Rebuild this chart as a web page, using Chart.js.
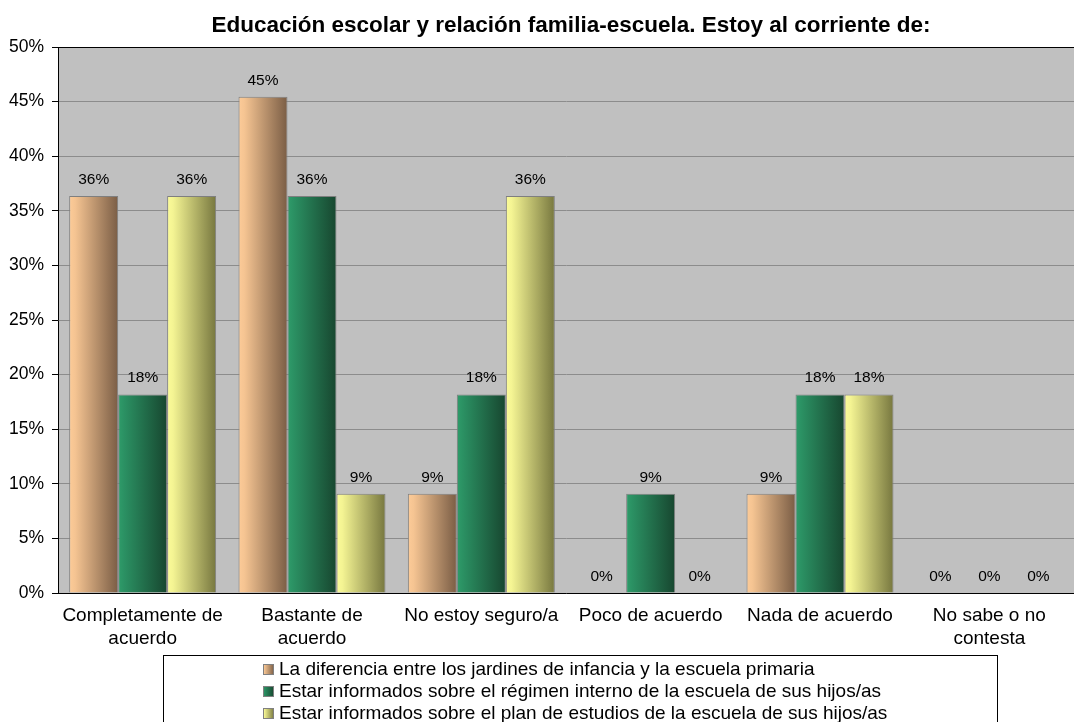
<!DOCTYPE html>
<html>
<head>
<meta charset="utf-8">
<title>Educación escolar y relación familia-escuela</title>
<script src="https://cdn.jsdelivr.net/npm/chart.js@4/dist/chart.umd.min.js"></script>
<style>
  html, body { margin: 0; padding: 0; background: #ffffff; }
  #wrap { width: 1074px; height: 722px; overflow: hidden; }
</style>
</head>
<body>
<div id="wrap"><canvas id="chart" width="1074" height="722"></canvas></div>
<script>
// Survey answers (share of respondents, %)
const categories = [
  ['Completamente de', 'acuerdo'],
  ['Bastante de', 'acuerdo'],
  'No estoy seguro/a',
  'Poco de acuerdo',
  'Nada de acuerdo',
  ['No sabe o no', 'contesta']
];
const seriesNames = [
  'La diferencia entre los jardines de infancia y la escuela primaria',
  'Estar informados sobre el régimen interno de la escuela de sus hijos/as',
  'Estar informados sobre el plan de estudios de la escuela de sus hijos/as'
];
const diferenciaJardines = [36.36, 45.45, 9.09, 0, 9.09, 0];
const regimenInterno     = [18.18, 36.36, 18.18, 9.09, 18.18, 0];
const planEstudios       = [36.36, 9.09, 36.36, 0, 18.18, 0];
const yTicks = [0, 5, 10, 15, 20, 25, 30, 35, 40, 45, 50];
const chartTitle = 'Educación escolar y relación familia-escuela. Estoy al corriente de:';

const FONT = "'Liberation Sans', Arial, Helvetica, sans-serif";
const CAT_PCT = 0.868;

// light -> dark horizontal shading for each series
const shades = [
  ['#fccb98', '#f5c492', '#7a5d45'],
  ['#2f9c6a', '#2b9163', '#17462f'],
  ['#fbfb98', '#f4f493', '#77773f']
];

function barGradient(ctx, left, width, s) {
  const g = ctx.createLinearGradient(left, 0, left + width, 0);
  g.addColorStop(0, s[0]);
  g.addColorStop(0.12, s[1]);
  g.addColorStop(1, s[2]);
  return g;
}

function barFill(seriesIndex) {
  return function (context) {
    const chart = context.chart;
    if (!chart.chartArea || context.dataIndex === undefined) return shades[seriesIndex][1];
    const xs = chart.scales.x;
    const n = chart.data.labels.length;
    const cw = (xs.right - xs.left) / n;
    const bw = cw * CAT_PCT / 3;
    const left = xs.getPixelForValue(context.dataIndex) - cw * CAT_PCT / 2 + seriesIndex * bw;
    return barGradient(chart.ctx, left, bw, shades[seriesIndex]);
  };
}

// grey plot background with a dark top edge
const plotBackground = {
  id: 'plotBackground',
  beforeDraw(chart) {
    const { ctx, chartArea: a } = chart;
    ctx.save();
    ctx.fillStyle = '#c0c0c0';
    ctx.fillRect(a.left, a.top, a.right - a.left, a.bottom - a.top);
    ctx.restore();
  },
  afterDraw(chart) {
    const { ctx, chartArea: a } = chart;
    ctx.save();
    ctx.strokeStyle = '#000000';
    ctx.lineWidth = 1;
    ctx.beginPath();
    ctx.moveTo(a.left, a.top + 0.5);
    ctx.lineTo(a.right, a.top + 0.5);
    ctx.stroke();
    ctx.restore();
  }
};

// percentage above every bar
const valueLabels = {
  id: 'valueLabels',
  afterDatasetsDraw(chart) {
    const ctx = chart.ctx;
    ctx.save();
    ctx.font = '15.5px ' + FONT;
    ctx.fillStyle = '#000000';
    ctx.textAlign = 'center';
    ctx.textBaseline = 'alphabetic';
    chart.data.datasets.forEach((ds, i) => {
      chart.getDatasetMeta(i).data.forEach((el, j) => {
        ctx.fillText(Math.round(ds.data[j]) + '%', el.x, el.y - 12);
      });
    });
    ctx.restore();
  }
};

// chart title centred over the plot
const titleText = {
  id: 'titleText',
  afterDraw(chart) {
    const ctx = chart.ctx;
    ctx.save();
    ctx.font = 'bold 22.5px ' + FONT;
    ctx.fillStyle = '#000000';
    ctx.textAlign = 'center';
    ctx.textBaseline = 'alphabetic';
    ctx.fillText(chartTitle, 571, 32);
    ctx.restore();
  }
};

// boxed legend below the category labels
const boxedLegend = {
  id: 'boxedLegend',
  afterDraw(chart) {
    const ctx = chart.ctx;
    ctx.save();
    ctx.strokeStyle = '#000000';
    ctx.lineWidth = 1;
    ctx.strokeRect(163.5, 655.5, 834, 80);
    ctx.font = '19px ' + FONT;
    ctx.textBaseline = 'alphabetic';
    ctx.textAlign = 'left';
    chart.data.datasets.forEach((ds, i) => {
      const base = 675 + i * 22;
      const sx = 263, sy = base - 11;
      ctx.fillStyle = barGradient(ctx, sx, 11, shades[i]);
      ctx.fillRect(sx, sy, 11, 11);
      ctx.strokeStyle = '#808080';
      ctx.strokeRect(sx + 0.5, sy + 0.5, 10, 10);
      ctx.fillStyle = '#000000';
      ctx.fillText(ds.label, 279, base);
    });
    ctx.restore();
  }
};

const seriesValues = [diferenciaJardines, regimenInterno, planEstudios];

new Chart(document.getElementById('chart'), {
  type: 'bar',
  data: {
    labels: categories,
    datasets: seriesValues.map((vals, i) => ({
      label: seriesNames[i],
      data: vals,
      backgroundColor: barFill(i),
      borderColor: '#7f7f7f',
      borderWidth: 1,
      categoryPercentage: CAT_PCT,
      barPercentage: 1
    }))
  },
  options: {
    responsive: false,
    animation: false,
    layout: { padding: { top: 47, right: 0, bottom: 0, left: 0 } },
    plugins: {
      legend: { display: false },
      title: { display: false },
      tooltip: { enabled: false }
    },
    scales: {
      x: {
        grid: { display: false },
        border: { display: true, color: '#000000', width: 1 },
        ticks: {
          color: '#000000',
          font: { family: FONT, size: 19, lineHeight: 1.21 },
          padding: 3,
          maxRotation: 0,
          autoSkip: false
        },
        afterFit(scale) { scale.height = 129; }
      },
      y: {
        min: yTicks[0],
        max: yTicks[yTicks.length - 1],
        afterBuildTicks(scale) { scale.ticks = yTicks.map(v => ({ value: v })); },
        grid: { color: '#8c8c8c', tickColor: '#000000', tickLength: 6, lineWidth: 1 },
        border: { display: true, color: '#000000', width: 1 },
        ticks: {
          color: '#000000',
          font: { family: FONT, size: 17.5 },
          padding: 8,
          callback: v => v + '%'
        },
        afterFit(scale) { scale.width = 58; }
      }
    }
  },
  plugins: [plotBackground, valueLabels, titleText, boxedLegend]
});
</script>
</body>
</html>
